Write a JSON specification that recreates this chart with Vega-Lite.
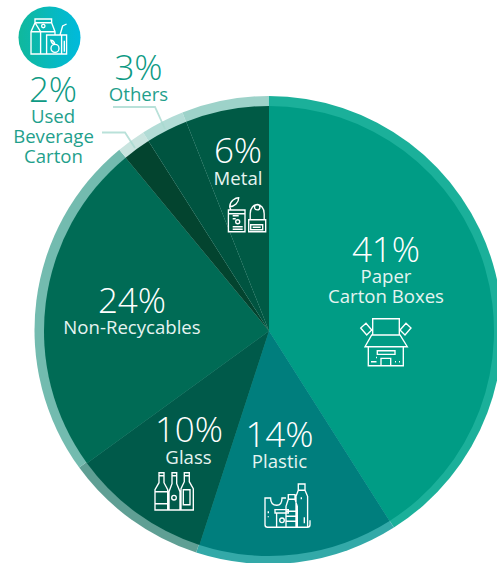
{
  "$schema": "https://vega.github.io/schema/vega-lite/v6.json",
  "width": 497,
  "height": 563,
  "padding": 0,
  "autosize": {"type": "none"},
  "background": "white",
  "config": {"view": {"stroke": null}, "font": "Open Sans"},
  "datasets": {
    "waste": [
      {"category": "Paper Carton Boxes", "share": 41, "rank": 1},
      {"category": "Plastic", "share": 14, "rank": 2},
      {"category": "Glass", "share": 10, "rank": 3},
      {"category": "Non-Recyclables", "share": 24, "rank": 4},
      {"category": "Used Beverage Carton", "share": 2, "rank": 5},
      {"category": "Others", "share": 3, "rank": 6},
      {"category": "Metal", "share": 6, "rank": 7}
    ],
    "percents": [
      {"text": "41%", "x": 386, "y": 262, "place": "inside"},
      {"text": "14%", "x": 279.5, "y": 447, "place": "inside"},
      {"text": "10%", "x": 189, "y": 442, "place": "inside"},
      {"text": "24%", "x": 132, "y": 313, "place": "inside"},
      {"text": "6%", "x": 238, "y": 163, "place": "inside"},
      {"text": "3%", "x": 138.5, "y": 80, "place": "outside"},
      {"text": "2%", "x": 53, "y": 102, "place": "outside"}
    ],
    "names": [
      {"text": "Paper", "x": 386, "y": 283, "place": "inside"},
      {"text": "Carton Boxes", "x": 386, "y": 303, "place": "inside"},
      {"text": "Plastic", "x": 279.5, "y": 468, "place": "inside"},
      {"text": "Glass", "x": 188.5, "y": 464, "place": "inside"},
      {"text": "Non-Recycables", "x": 132, "y": 334, "place": "inside"},
      {"text": "Metal", "x": 238, "y": 185, "place": "inside"},
      {"text": "Others", "x": 138.5, "y": 101, "place": "outside"},
      {"text": "Used", "x": 53, "y": 123, "place": "outside"},
      {"text": "Beverage", "x": 53.5, "y": 143, "place": "outside"},
      {"text": "Carton", "x": 53.5, "y": 163, "place": "outside"}
    ],
    "leaders": [
      {"leader": "Others", "step": 1, "x": 113, "y": 107},
      {"leader": "Others", "step": 2, "x": 155, "y": 107},
      {"leader": "Others", "step": 3, "x": 165, "y": 129},
      {"leader": "Used Beverage Carton", "step": 1, "x": 102, "y": 132.5},
      {"leader": "Used Beverage Carton", "step": 2, "x": 125, "y": 132.5},
      {"leader": "Used Beverage Carton", "step": 3, "x": 135, "y": 148}
    ],
    "icons": [
      {"icon": "box", "x": 386, "y": 346},
      {"icon": "plastics", "x": 287.3, "y": 506.3},
      {"icon": "bottles", "x": 174, "y": 491.7},
      {"icon": "cans", "x": 246.7, "y": 216.7},
      {"icon": "drinks", "x": 49.3, "y": 36.7}
    ]
  },
  "encoding": {
    "x": {"type": "quantitative", "scale": {"domain": [0, 497], "range": [0, 497]}, "axis": null},
    "y": {"type": "quantitative", "scale": {"domain": [0, 563], "range": [0, 563]}, "axis": null}
  },
  "layer": [
    {
      "data": {"name": "waste"},
      "mark": {"type": "arc", "outerRadius": 234, "innerRadius": 0},
      "encoding": {
        "x": {"datum": 268.5},
        "y": {"datum": 330},
        "theta": {"field": "share", "type": "quantitative", "stack": true},
        "order": {"field": "rank"},
        "color": {
          "field": "category",
          "type": "nominal",
          "legend": null,
          "scale": {
            "domain": ["Paper Carton Boxes", "Plastic", "Glass", "Non-Recyclables", "Used Beverage Carton", "Others", "Metal"],
            "range": ["#1BB09A", "#33A9A8", "#5F9F94", "#73BBAF", "#C9E4DF", "#B2DCD6", "#9DD2C9"]
          }
        }
      }
    },
    {
      "data": {"name": "waste"},
      "mark": {"type": "arc", "outerRadius": 225, "innerRadius": 0},
      "encoding": {
        "x": {"datum": 269},
        "y": {"datum": 331},
        "theta": {"field": "share", "type": "quantitative", "stack": true},
        "order": {"field": "rank"},
        "fill": {
          "field": "category",
          "type": "nominal",
          "legend": null,
          "scale": {
            "domain": ["Paper Carton Boxes", "Plastic", "Glass", "Non-Recyclables", "Used Beverage Carton", "Others", "Metal"],
            "range": ["#009C85", "#007E7D", "#005A4A", "#006B55", "#03442F", "#005440", "#005A45"]
          }
        }
      }
    },
    {
      "data": {"name": "leaders"},
      "mark": {"type": "line", "stroke": "#A8D9D0", "strokeWidth": 1.8, "opacity": 0.8},
      "encoding": {
        "x": {"field": "x", "type": "quantitative"},
        "y": {"field": "y", "type": "quantitative"},
        "detail": {"field": "leader"},
        "order": {"field": "step"}
      }
    },
    {
      "data": {"values": [{"badge": "Used Beverage Carton"}]},
      "mark": {
        "type": "point",
        "shape": "circle",
        "filled": true,
        "opacity": 1,
        "size": 3844,
        "fill": {
          "gradient": "linear",
          "x1": 0, "y1": 0, "x2": 1, "y2": 0,
          "stops": [{"offset": 0, "color": "#10B89C"}, {"offset": 1, "color": "#00BADC"}]
        }
      },
      "encoding": {"x": {"datum": 49.5}, "y": {"datum": 37.5}}
    },
    {
      "data": {"name": "icons"},
      "mark": {"type": "point", "filled": false, "opacity": 1, "stroke": "#FFFFFF", "strokeWidth": 1.35, "size": 4},
      "encoding": {
        "x": {"field": "x", "type": "quantitative"},
        "y": {"field": "y", "type": "quantitative"},
        "shape": {
          "field": "icon",
          "type": "nominal",
          "legend": null,
          "scale": {
            "domain": ["box", "plastics", "bottles", "cans", "drinks"],
            "range": [
              "M-13.3,-11V-27.3H13.3V-11M-14.3,-11H14L21.3,0.7H-21ZM-17.7,0.7V19.7H17.3V0.7M-8.7,4.7H9V8.3H-8.7ZM-5,19.7V12.3H4.7V19.7M-15,15.7H-9.5M-10,11.5H-9M9,15.7H10M13,15.7H14M-20,-22.7L-25.3,-18L-19.3,-11L-14.3,-16ZM20,-22.7L25,-18L19,-11L14,-16Z",
              "M-1.3,-8.3H-5.3C-5.3,-3 -7,-1 -10.5,-1C-14,-1 -16.7,-3 -16.7,-8.3H-22.3V18.5Q-22.3,21 -19.8,21H20Q22.7,21 22.7,18.5V14M11,-22.3H17.7V-16H11ZM11,-16L8.7,-10V21M17.7,-16L20.3,-10V21M1,-11.7H7.7V-7H1ZM1,-7L-1.3,0V21M7.7,-7L10,0V21M-1.3,5H10M-1.3,10H10M-1.3,15H10M-12.3,3.3H1V6.7H-12.3ZM-10.7,6.7V21M-1.3,6.7V21M-3,14A2.3,2.3 0 1 1 -7.6,14A2.3,2.3 0 1 1 -3,14M-19,5V7M-19,10V11M17,11V17M14,-9V-7",
              "M-15,-19H-10V-9L-6.3,-2V18.3H-19V-2L-15,-9ZM-15,-16H-10M-19,0H-6.3M-19,12H-6.3M-2,-19H2.7V-8L6,0V18.3H-5V0L-2,-8ZM-2,-16H2.7M2.3,6A2.3,2.3 0 1 1 -2.3,6A2.3,2.3 0 1 1 2.3,6M10.3,-19H15.3V-10L19.3,-3V18.3H7V-3L10.3,-10ZM10.3,-16H15.3M9.3,-2H16V13H9.3Z",
              "M-18.3,-6.7H-1.7V15H-18.3ZM-18.3,-3H-1.7M-14,-1H-8M-14,2H-11M-14,10H-4M-14,12.5H-4M-7,5A2,2 0 1 1 -11,5A2,2 0 1 1 -7,5M-17,-10C-17,-16 -11,-19 -8,-19C-8,-14 -12,-10 -17,-10ZM-17,-10L-16,-7M2,3H19V15H2ZM4,8H16V13H4ZM6,10.5H14M3.5,3V-3C3.5,-9 7,-12 10.5,-12C14,-12 17.5,-9 17.5,-3V3M13.2,-9.5A2.7,2.7 0 1 1 7.8,-9.5A2.7,2.7 0 1 1 13.2,-9.5",
              "M-14.3,-17.7H2.3V-14H-14.3ZM-14.3,-14L-18.3,-5V17.3H-2.7M-14.3,-14L-8.7,-5V17.3M2.3,-14L5.7,-5V-1.7M-18.3,-5H5.7M-4.3,-10.7A1.7,1.7 0 1 1 -7.7,-10.7A1.7,1.7 0 1 1 -4.3,-10.7M-2.7,-1.7H17.3V17.3H-2.7ZM12.3,-1.7V17.3M15,4V15M9.7,11.7A4,4 0 1 1 1.7,11.7A4,4 0 1 1 9.7,11.7M5.7,7.7C5,5 3.5,3.5 1.5,3.5C2,6 3.5,7.5 5.7,7.7M10.7,-1.7L13.3,-10.7L17.3,-12.7"
            ]
          }
        }
      }
    },
    {
      "data": {"name": "percents"},
      "mark": {"type": "text", "font": "Open Sans", "fontWeight": 300, "fontSize": 35, "align": "center", "baseline": "alphabetic"},
      "encoding": {
        "x": {"field": "x", "type": "quantitative"},
        "y": {"field": "y", "type": "quantitative"},
        "text": {"field": "text"},
        "color": {"condition": {"test": "datum.place === 'outside'", "value": "#0E9A84"}, "value": "#FFFFFF"}
      }
    },
    {
      "data": {"name": "names"},
      "mark": {"type": "text", "font": "Open Sans", "fontWeight": 400, "fontSize": 18.6, "align": "center", "baseline": "alphabetic"},
      "encoding": {
        "x": {"field": "x", "type": "quantitative"},
        "y": {"field": "y", "type": "quantitative"},
        "text": {"field": "text"},
        "color": {"condition": {"test": "datum.place === 'outside'", "value": "#1FA08C"}, "value": "#E6F4F1"}
      }
    }
  ],
  "resolve": {"scale": {"color": "independent", "fill": "independent"}}
}
